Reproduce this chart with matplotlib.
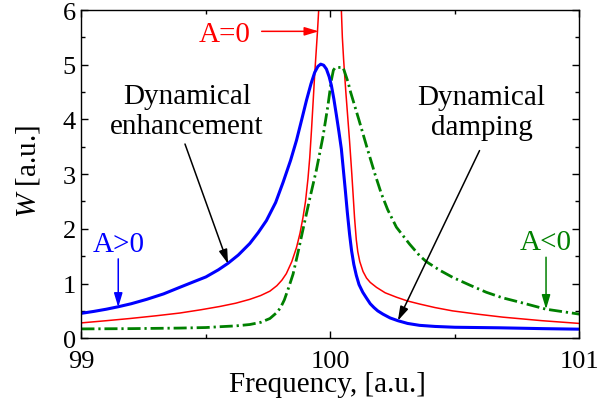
import matplotlib
matplotlib.use("Agg")
import matplotlib.pyplot as plt
import numpy as np

plt.rcParams['font.family'] = ['Liberation Serif', 'DejaVu Serif']
plt.rcParams['mathtext.fontset'] = 'custom'
plt.rcParams['mathtext.rm'] = 'Liberation Serif'
plt.rcParams['mathtext.it'] = 'Liberation Serif:italic'

# ---- data ----
x_pos = [99.0, 99.05, 99.1, 99.148, 99.2, 99.262, 99.33, 99.395, 99.45, 99.5,
         99.55, 99.589, 99.63, 99.676, 99.71, 99.743, 99.78, 99.81, 99.84, 99.864,
         99.885, 99.904, 99.922, 99.937, 99.95, 99.961, 99.973, 99.984, 99.995, 100.004,
         100.014, 100.024, 100.034, 100.044, 100.052, 100.06, 100.068, 100.077, 100.085,
         100.094, 100.104, 100.115, 100.13, 100.144, 100.16, 100.175, 100.19, 100.211,
         100.24, 100.271, 100.31, 100.358, 100.42, 100.5, 100.68, 100.85, 101.0]
w_pos = [0.455, 0.49, 0.53, 0.575, 0.63, 0.71, 0.81, 0.93, 1.03, 1.12,
         1.25, 1.37, 1.52, 1.73, 1.93, 2.15, 2.48, 2.85, 3.25, 3.62,
         4.0, 4.35, 4.65, 4.86, 4.97, 5.01, 4.99, 4.92, 4.78, 4.62,
         4.37, 4.08, 3.78, 3.46, 3.08, 2.7, 2.3, 1.9, 1.6,
         1.35, 1.15, 0.98, 0.84, 0.74, 0.63, 0.56, 0.50, 0.44,
         0.37, 0.32, 0.27, 0.235, 0.215, 0.20, 0.19, 0.175, 0.165]

x_zero = [99.0, 99.1, 99.195, 99.3, 99.395, 99.48, 99.556, 99.62, 99.676, 99.72,
          99.757, 99.785, 99.805, 99.823, 99.845, 99.864, 99.878, 99.89, 99.9, 99.91,
          99.917, 99.924, 99.931, 99.937, 99.943, 99.948, 99.953,
          100.0,
          100.044, 100.048, 100.053, 100.057, 100.062, 100.067, 100.072, 100.077, 100.082,
          100.086, 100.091, 100.097, 100.104, 100.11, 100.118, 100.131, 100.145, 100.16,
          100.185, 100.22, 100.265, 100.31, 100.358, 100.42, 100.49, 100.59, 100.692,
          100.85, 101.0]
w_zero = [0.28, 0.32, 0.36, 0.41, 0.46, 0.52, 0.58, 0.64, 0.71, 0.78,
          0.86, 0.96, 1.06, 1.18, 1.40, 1.66, 1.92, 2.21, 2.50, 2.92,
          3.30, 3.80, 4.35, 4.83, 5.25, 5.60, 6.0,
          np.nan,
          6.0, 5.5, 5.1, 4.83, 4.5, 4.2, 3.9, 3.6, 3.27,
          3.0, 2.64, 2.2, 1.8, 1.58, 1.40, 1.22, 1.10, 1.02,
          0.93, 0.83, 0.75, 0.68, 0.625, 0.56, 0.50, 0.44, 0.385,
          0.32, 0.27]

x_neg = [99.0, 99.2, 99.395, 99.5, 99.556, 99.62, 99.676, 99.72, 99.757, 99.785,
         99.8, 99.815, 99.832, 99.85, 99.87, 99.89, 99.917, 99.944, 99.97, 99.99,
         100.004, 100.012, 100.02, 100.051, 100.071, 100.081, 100.114, 100.146, 100.179,
         100.204, 100.23, 100.265, 100.318, 100.358, 100.385, 100.44, 100.492, 100.56,
         100.626, 100.69, 100.759, 100.866, 101.0]
w_neg = [0.17, 0.175, 0.185, 0.195, 0.21, 0.225, 0.25, 0.29, 0.36, 0.47,
         0.56, 0.70, 0.92, 1.17, 1.57, 1.99, 2.55, 3.08, 3.68, 4.25,
         4.72, 4.90, 4.95, 4.95, 4.68, 4.5, 4.0, 3.5, 3.0,
         2.65, 2.35, 2.03, 1.72, 1.51, 1.40, 1.24, 1.11, 0.97,
         0.84, 0.74, 0.66, 0.53, 0.44]

xticks = [99, 100, 101]
yticks = [0, 1, 2, 3, 4, 5, 6]

fig = plt.figure(figsize=(6.0, 4.06), dpi=100)
ax = fig.add_axes([81.4/600, 1-339.2/406, 498/600, 328.2/406])

ax.plot(x_zero, w_zero, color='#ff0000', lw=1.1)
ax.plot(x_neg, w_neg, color='#008000', lw=2.0, linestyle=(0, (4.7, 1.4, 0.8, 1.4)))
ax.plot(x_pos, w_pos, color='#0000ff', lw=2.2)

ax.set_xlim(99, 101)
ax.set_ylim(0, 6)
ax.set_xticks(xticks)
ax.set_yticks(yticks)
ax.set_xticks([99.5, 100.5], minor=True)
ax.set_yticks([0.5, 1.5, 2.5, 3.5, 4.5, 5.5], minor=True)
ax.tick_params(which='both', direction='in', top=True, right=True, labelsize=19, width=1.0)
ax.tick_params(which='major', length=5)
ax.tick_params(which='minor', length=3)
ax.tick_params(axis='x', pad=8.5)
ax.tick_params(axis='y', pad=4)
for s in ax.spines.values():
    s.set_linewidth(1.0)

ax.set_xlabel('Frequency, [a.u.]', fontsize=21, va='center')
ax.xaxis.set_label_coords(0.495, -0.1396)
ax.set_ylabel('$W$ [a.u.]', fontsize=21, va='center')
ax.yaxis.set_label_coords(-0.107, 0.512)

def arrow(x0, y0, x1, y1, color):
    ax.annotate('', xy=(x1, y1), xytext=(x0, y0),
                arrowprops=dict(arrowstyle='-|>,head_length=0.5,head_width=0.15',
                                mutation_scale=17, color=color, lw=1.1,
                                shrinkA=0, shrinkB=0))

ax.text(99.575, 5.56, 'A=0', color='#ff0000', fontsize=21, ha='center', va='center')
arrow(99.724, 5.61, 99.953, 5.61, '#ff0000')

ax.text(99.151, 1.72, 'A>0', color='#0000ff', fontsize=21, ha='center', va='center')
arrow(99.148, 1.45, 99.148, 0.565, '#0000ff')

ax.text(100.864, 1.76, 'A<0', color='#008000', fontsize=21, ha='center', va='center')
arrow(100.866, 1.48, 100.866, 0.53, '#008000')

ax.text(99.424, 4.15, 'Dynamical\nenhancement', color='k', fontsize=21,
        ha='center', va='center', linespacing=1.2)
arrow(99.416, 3.55, 99.589, 1.36, 'k')

ax.text(100.607, 4.13, 'Dynamical\ndamping', color='k', fontsize=21,
        ha='center', va='center', linespacing=1.2)
arrow(100.599, 3.43, 100.271, 0.32, 'k')

fig.savefig('out.png', dpi=100)
